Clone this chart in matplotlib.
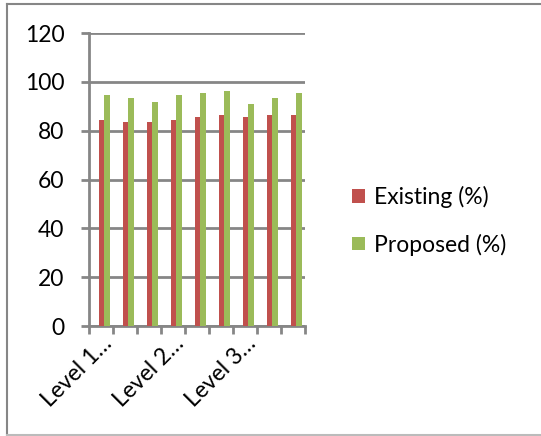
import matplotlib
matplotlib.use('Agg')

import numpy as np
import matplotlib.pyplot as plt
from matplotlib.lines import Line2D

font = {'family': 'Lato',
        'size': 16.5}
matplotlib.rc('font', **font)

# values
existing = [84.5, 83.5, 83.5, 84.5, 85.5, 86.5, 85.5, 86.5, 86.5]
proposed = [94.5, 93.5, 92, 94.5, 95.5, 96.5, 91, 93.5, 95.5]
series_names = ['Existing (%)', 'Proposed (%)']
tick_labels = ['Level 1…', 'Level 2…', 'Level 3…']
label_pos = [0, 3, 6]
yticks = [0, 20, 40, 60, 80, 100, 120]

red = '#C0504D'
green = '#9BBB59'
grey = '#868686'

if __name__ == '__main__':

    fig = plt.figure(figsize=(5.41, 4.36), dpi=100)
    ax = fig.add_axes([0.165, 0.252, 0.399, 0.672])

    x = np.arange(len(existing))
    w = 0.22
    ax.bar(x - 0.09, existing, w, align='edge', color=red, label=series_names[0], zorder=3)
    ax.bar(x + 0.13, proposed, w, align='edge', color=green, label=series_names[1], zorder=3)

    ax.set_xlim(-0.5, len(existing) - 0.5)
    ax.set_ylim(0, 120)
    ax.set_yticks(yticks)
    ax.yaxis.grid(True, color=grey, linewidth=2, zorder=0)

    # category boundaries carry the tick marks, labels sit on every third category
    ax.set_xticks(np.arange(-0.5, len(existing)), [''] * (len(existing) + 1))
    ax.set_xticks(label_pos, tick_labels, minor=True)
    ax.tick_params(axis='x', which='major', direction='out', length=6, width=2, color=grey)
    ax.tick_params(axis='x', which='minor', length=0, pad=5, labelsize=16.5)
    for lab in ax.get_xticklabels(minor=True):
        lab.set_rotation(45)
        lab.set_ha('right')
        lab.set_va('top')
        lab.set_rotation_mode('anchor')
    ax.tick_params(axis='y', direction='out', length=6, width=2, color=grey, pad=12)

    for s in ['top', 'right']:
        ax.spines[s].set_visible(False)
    for s in ['left', 'bottom']:
        ax.spines[s].set_color(grey)
        ax.spines[s].set_linewidth(2)

    leg = ax.legend(loc='center left', bbox_to_anchor=(352 / 541, 1 - 221 / 436),
                    bbox_transform=fig.transFigure, frameon=False,
                    handlelength=0.55, handleheight=0.55, handletextpad=0.4,
                    labelspacing=1.1, borderpad=0, borderaxespad=0)

    # outer chart frame
    fig.add_artist(Line2D([7 / 541, 7 / 541], [1 - 435 / 436, 1 - 4 / 436], color=grey, lw=1.5))
    fig.add_artist(Line2D([7 / 541, 1], [1 - 4 / 436, 1 - 4 / 436], color=grey, lw=1.5))
    fig.add_artist(Line2D([7 / 541, 1], [1 - 435 / 436, 1 - 435 / 436], color='#BBBBBB', lw=1.5))

    fig.savefig('out.png', dpi=100)
